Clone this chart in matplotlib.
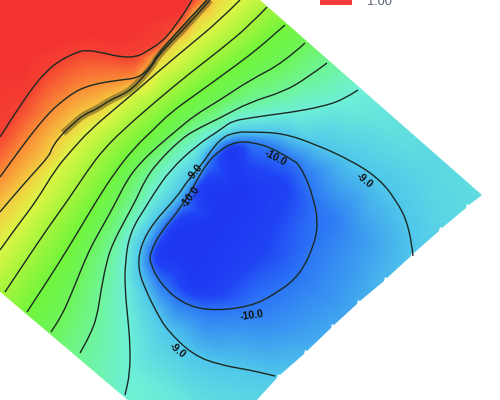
import matplotlib
matplotlib.use("Agg")
import matplotlib.pyplot as plt
import matplotlib.tri as mtri
import numpy as np
from matplotlib.colors import LinearSegmentedColormap
from matplotlib.patches import Polygon, PathPatch
from matplotlib.path import Path

# isolines, (x, y) in picture units
line_0 = [(192,0),(185,12),(177,23),(169,34),(160,43),(149,50),(137,57),(120,57),(104,53),(87,50),(77,52),(57,62),(44,74),(33,87),(16,112),(0,137)]
line_m1 = [(207,0),(190,18),(172,38),(157,55),(150,68),(138,78),(120,80),(100,83),(85,87),(73,93),(60,103),(50,112),(38,126),(27,140),(13,159),(0,177)]
line_m2 = [(210,0),(195,17),(175,38),(157,57),(153,65),(143,77),(133,88),(122,95),(110,100),(97,109),(83,115),(72,125),(63,133),(52,147),(50,155),(30,177),(10,200),(0,212)]
line_m3 = [(240,0),(220,20),(190,45),(160,70),(135,92),(117,107),(90,130),(70,152),(55,170),(37,200),(18,225),(0,250)]
line_m4 = [(267,7),(250,25),(220,50),(190,73),(155,102),(123,130),(103,150),(88,170),(68,200),(50,225),(33,250),(13,280),(5,292)]
line_m5 = [(285,25),(268,40),(250,55),(220,77),(195,95),(170,113),(153,130),(135,147),(115,172),(97,200),(82,225),(67,250),(48,280),(27,312)]
line_m6 = [(305,43),(283,63),(250,80),(220,100),(195,115),(177,130),(158,146),(140,163),(127,180),(117,200),(105,222),(93,243),(85,260),(77,280),(70,297),(62,315),(51,332)]
line_m7 = [(327,63),(307,78),(283,92),(250,102),(220,118),(195,130),(180,140),(157,163),(145,180),(136,200),(125,220),(113,243),(107,260),(101,290),(97,317),(90,335),(80,353)]
line_m8 = [(358,90),(343,100),(320,107),(293,112),(270,115),(250,118),(232,121),(220,130),(197,145),(170,170),(153,195),(147,205),(130,232),(125,263),(125,290),(128,320),(130,343),(130,373),(125,395)]
line_m9 = [(413,256),(410,227),(395,198),(377,177),(350,160),(317,145),(283,133),(250,132),(237,132),(220,138),(200,167),(188,180),(177,197),(153,223),(140,247),(138,270),(147,293),(157,313),(167,330),(193,355),(220,365),(250,370),(275,376)]
line_m10 = [(297,163),(277,150),(253,142),(235,142),(220,150),(207,163),(197,180),(183,205),(160,233),(150,253),(150,263),(160,283),(180,302),(207,311),(250,307),(277,293),(300,275),(315,243),(318,220),(313,197),(305,175),(297,163)]

isolines = [line_0, line_m1, line_m2, line_m3, line_m4, line_m5, line_m6, line_m7, line_m8, line_m9, line_m10]
iso_levels = [0, -1, -2, -3, -4, -5, -6, -7, -8, -9, -10]

# spot values between the isolines
spot_x = [-5,100,190,20,60,270,495,440,350,320,255,200,130,-5,235,158,195,282,220,265,240,190,360,380,430,330,110,60,228,205,175,160,-60,600,600,-60]
spot_y = [-5,15,-5,30,20,-5,195,230,315,345,410,410,410,295,147,255,285,185,220,250,190,260,240,120,170,220,365,345,150,185,228,250,-60,-60,500,500]
spot_val = [1,1,1,1,1,-3.4,-8.4,-8.7,-9.4,-9.3,-8.5,-8.3,-7.9,-3.9,-10.9,-10.9,-10.9,-10.6,-11,-10.5,-11,-11,-9.6,-8.3,-8.6,-10,-7.6,-6.4,-10.9,-10.9,-10.9,-10.9,1,-8.4,-8.5,-5]

# colour ramp, value and rgb
ramp_val = [-11,-10.5,-10,-9,-8,-7,-6,-5,-4,-3,-2,-1,0,0.5,1]
ramp_rgb = [(30,55,240),(32,68,245),(45,120,245),(80,200,235),(110,240,215),(110,245,150),(110,245,90),(115,245,60),(165,245,60),(220,245,70),(245,205,65),(250,140,55),(245,65,50),(243,50,50),(243,50,50)]

domain = [(-2,-2),(260,0),(482,195)]
teeth = [(467,207),(440,230),(412,255),(385,280),(358,303),(332,327),(305,353),(278,377)]
domain_end = [(255,402),(130,402),(-2,290)]

labels = ["-10.0","-10.0","-10.0","-9.0","-9.0","-9.0"]
label_x = [275,191,252,364,195,177]
label_y = [158,197,315,180,172,350]
label_rot = [-28,52,8,-40,50,-40]


def blur(a, sigma):
    r = int(3 * sigma)
    k = np.exp(-0.5 * (np.arange(-r, r + 1) / sigma) ** 2)
    k /= k.sum()
    a = np.pad(a, r, mode="edge")
    a = np.apply_along_axis(lambda v: np.convolve(v, k, mode="same"), 0, a)
    a = np.apply_along_axis(lambda v: np.convolve(v, k, mode="same"), 1, a)
    return a[r:-r, r:-r]


def soft_path(ln):
    # points are control points of quadratic pieces, so the line stays smooth
    verts = [ln[0]]
    codes = [Path.MOVETO]
    for a, b in zip(ln[1:-1], ln[2:]):
        verts += [a, ((a[0] + b[0]) / 2, (a[1] + b[1]) / 2)]
        codes += [Path.CURVE3, Path.CURVE3]
    verts.append(ln[-1])
    codes.append(Path.LINETO)
    return Path(verts, codes)


pts = [p for ln in isolines for p in ln]
vals = [lv for ln, lv in zip(isolines, iso_levels) for p in ln]
px = np.array([p[0] for p in pts] + spot_x, dtype=float)
py = np.array([p[1] for p in pts] + spot_y, dtype=float)
pz = np.array(vals + spot_val, dtype=float)

# drop repeats, Triangulation doesnt like them
_, keep = np.unique(np.c_[px, py], axis=0, return_index=True)
px, py, pz = px[keep], py[keep], pz[keep]

pos = [(v - ramp_val[0]) / (ramp_val[-1] - ramp_val[0]) for v in ramp_val]
cols = [tuple(c / 255 for c in rgb) for rgb in ramp_rgb]
cmap = LinearSegmentedColormap.from_list("field", list(zip(pos, cols)), N=512)

fig = plt.figure(figsize=(5, 4), dpi=100)
ax = fig.add_axes([0, 0, 1, 1])
ax.set_xlim(0, 500)
ax.set_ylim(400, 0)
ax.axis("off")

outline = list(domain)
for tx, ty in teeth:
    outline += [(tx + 2, ty - 2), (tx, ty - 3), (tx - 1, ty + 1)]
outline += domain_end
clip = Polygon(outline, closed=True, transform=ax.transData, fc="none", ec="none")
ax.add_patch(clip)

tri = mtri.Triangulation(px, py)
gx, gy = np.meshgrid(np.arange(500) + 0.5, np.arange(400) + 0.5)
field = mtri.LinearTriInterpolator(tri, pz)(gx, gy).filled(-8.5)
field = blur(field, 3.5)
im = ax.imshow(field, extent=(0, 500, 400, 0), cmap=cmap, vmin=ramp_val[0], vmax=ramp_val[-1],
               interpolation="bilinear", aspect="auto")
im.set_clip_path(clip)

# dark smear along the steep ridge
ax.add_patch(PathPatch(soft_path(line_m2[:13]), fc="none", ec="#4a3a18", lw=5, alpha=0.45))

for ln in isolines:
    ax.add_patch(PathPatch(soft_path(ln), fc="none", ec="#1c2a22", lw=1.0))

for s, x, y, r in zip(labels, label_x, label_y, label_rot):
    ax.text(x, y, s, fontsize=7.5, fontweight="bold", color="#111111", family="Liberation Sans",
            rotation=r, rotation_mode="anchor", ha="center", va="center")

ax.fill([320, 352, 352, 320], [-5, -5, 4.5, 4.5], color="#f43a3a", lw=0)
ax.text(367, 5, "1.00", fontsize=9.2, color="#566070", family="Liberation Sans", ha="left", va="baseline")

fig.savefig("out.png", dpi=100)
